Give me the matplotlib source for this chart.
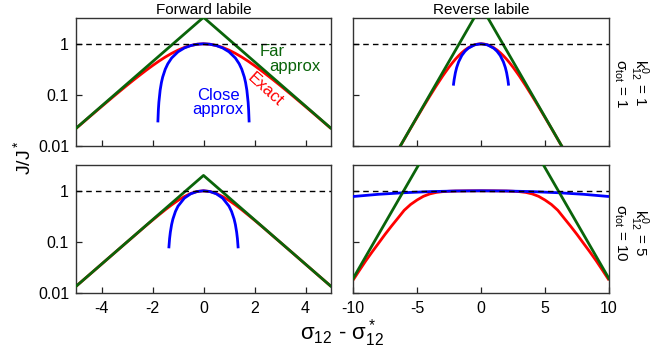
import numpy as np
import matplotlib
matplotlib.use("Agg")
import matplotlib.pyplot as plt

plt.rcParams['font.family'] = ['Liberation Sans', 'DejaVu Sans']
plt.rcParams['mathtext.fontset'] = 'custom'
plt.rcParams['mathtext.rm'] = 'Liberation Sans'
plt.rcParams['mathtext.it'] = 'Liberation Sans:italic'
plt.rcParams['mathtext.bf'] = 'Liberation Sans:bold'

# ---- data (positive half of symmetric curves) ----
# Top-left: Forward labile, k12=1, sigma_tot=1
tl_exact_x = [0, 0.25, 0.5, 0.75, 1, 1.25, 1.5, 1.75, 2, 2.25, 2.5, 2.75, 3, 3.5, 4, 4.5, 5]
tl_exact_y = [1, 0.981, 0.928, 0.849, 0.752, 0.650, 0.550, 0.457, 0.374, 0.303, 0.243, 0.194,
              0.154, 0.0958, 0.0590, 0.0361, 0.0220]
tl_close_x = [0, 0.25, 0.5, 0.75, 1, 1.25, 1.4, 1.5, 1.6, 1.65, 1.7, 1.75, 1.77, 1.79]
tl_close_y = [1, 0.981, 0.924, 0.830, 0.697, 0.527, 0.406, 0.318, 0.224, 0.175, 0.124, 0.072, 0.051, 0.029]
tl_far_x = [0, 5]
tl_far_y = [3.3, 0.0222]

# Top-right: Reverse labile, k12=1, sigma_tot=1
tr_exact_x = [0, 0.25, 0.5, 0.75, 1, 1.25, 1.5, 1.75, 2, 2.25, 2.5, 2.75, 3, 3.5, 4, 4.5, 5,
              5.5, 6, 6.5, 7]
tr_exact_y = [1, 0.989, 0.956, 0.903, 0.835, 0.756, 0.670, 0.583, 0.499, 0.420, 0.349, 0.286,
              0.233, 0.150, 0.0946, 0.0588, 0.0362, 0.0222, 0.0135, 0.0082, 0.0050]
tr_close_x = [0, 0.5, 1, 1.25, 1.5, 1.75, 1.9, 2, 2.1, 2.16]
tr_close_y = [1, 0.955, 0.818, 0.716, 0.591, 0.443, 0.344, 0.273, 0.198, 0.152]
tr_far_x = [0, 7]
tr_far_y = [5.5, 0.0050]

# Bottom-left: Forward labile, k12=5, sigma_tot=10
bl_exact_x = [0, 0.25, 0.5, 0.75, 1, 1.25, 1.5, 1.75, 2, 2.25, 2.5, 2.75, 3, 3.5, 4, 4.5, 5]
bl_exact_y = [1, 0.970, 0.887, 0.772, 0.648, 0.530, 0.425, 0.337, 0.266, 0.209, 0.163, 0.127,
              0.0993, 0.0603, 0.0366, 0.0222, 0.0135]
bl_close_x = [0, 0.25, 0.5, 0.75, 1, 1.1, 1.2, 1.25, 1.3, 1.33, 1.36]
bl_close_y = [1, 0.969, 0.875, 0.719, 0.5, 0.395, 0.28, 0.219, 0.155, 0.116, 0.075]
bl_far_x = [0, 5]
bl_far_y = [2.0, 0.0135]

# Bottom-right: Reverse labile, k12=5, sigma_tot=10
br_exact_x = [0, 1, 2, 2.5, 3, 3.5, 4, 4.5, 5, 5.5, 6, 6.5, 7, 7.5, 8, 8.5, 9, 9.5, 10]
br_exact_y = [1, 0.998, 0.99, 0.98, 0.963, 0.93, 0.87, 0.78, 0.66, 0.54, 0.416, 0.29, 0.203,
              0.14, 0.0945, 0.064, 0.0427, 0.0277, 0.0178]
br_close_x = [0, 2, 4, 6, 8, 10]
br_close_y = [1, 0.991, 0.964, 0.918, 0.855, 0.773]
br_far_x = [0, 10]
br_far_y = [420, 0.0191]

titles = ["Forward labile", "Reverse labile"]
row_labels = [r"$\mathrm{k^0_{12}}$ = 1" + "\n" + r"$\mathrm{\sigma_{tot}}$ = 1",
              r"$\mathrm{k^0_{12}}$ = 5" + "\n" + r"$\mathrm{\sigma_{tot}}$ = 10"]
left_xticks = [-4, -2, 0, 2, 4]
right_xticks = [-10, -5, 0, 5, 10]
yticks = [0.01, 0.1, 1]
ytick_labels = ["0.01", "0.1", "1"]

GREEN = '#0a640a'
RED = '#ff0000'
BLUE = '#0000ff'


def mirror(x, y):
    x = np.asarray(x, float)
    y = np.asarray(y, float)
    return np.concatenate([-x[::-1], x[1:]]), np.concatenate([y[::-1], y[1:]])


W, H = 655, 350
fig = plt.figure(figsize=(W / 100, H / 100), dpi=100)


def add_ax(l, t, r, b):
    return fig.add_axes([l / W, 1 - b / H, (r - l) / W, (b - t) / H])


ax_tl = add_ax(76, 18, 331, 146)
ax_tr = add_ax(353, 18, 609, 146)
ax_bl = add_ax(76, 165, 331, 293)
ax_br = add_ax(353, 165, 609, 293)

panels = [
    (ax_tl, tl_exact_x, tl_exact_y, tl_close_x, tl_close_y, tl_far_x, tl_far_y, (-5, 5)),
    (ax_tr, tr_exact_x, tr_exact_y, tr_close_x, tr_close_y, tr_far_x, tr_far_y, (-10, 10)),
    (ax_bl, bl_exact_x, bl_exact_y, bl_close_x, bl_close_y, bl_far_x, bl_far_y, (-5, 5)),
    (ax_br, br_exact_x, br_exact_y, br_close_x, br_close_y, br_far_x, br_far_y, (-10, 10)),
]

for ax, ex, ey, cx, cy, fx, fy, xl in panels:
    ax.set_yscale('log')
    x, y = mirror(ex, ey)
    ax.plot(x, y, color=RED, lw=2, zorder=2, solid_capstyle='butt')
    x, y = mirror(cx, cy)
    ax.plot(x, y, color=BLUE, lw=2, zorder=3, solid_capstyle='butt')
    x, y = mirror(fx, fy)
    ax.plot(x, y, color=GREEN, lw=2, zorder=4)
    ax.axhline(1, color='black', lw=1, ls=(0, (4, 3)), zorder=5)
    ax.set_xlim(*xl)
    ax.set_ylim(0.01, 3.2)
    ax.set_yticks(yticks)
    ax.minorticks_off()
    ax.tick_params(direction='in', length=4, width=0.9, labelsize=11.5,
                   top=False, right=False, pad=5, color='#222222')
    ax.tick_params(axis='x', pad=6)
    for s in ax.spines.values():
        s.set_linewidth(1.0)
        s.set_color('#333333')

for ax in (ax_tl, ax_bl):
    ax.set_xticks(left_xticks)
    ax.set_yticklabels(ytick_labels)
for ax in (ax_tr, ax_br):
    ax.set_xticks(right_xticks)
    ax.set_yticklabels([])
ax_tl.set_xticklabels([])
ax_tr.set_xticklabels([])
ax_bl.set_xticklabels([str(v) for v in left_xticks])
ax_br.set_xticklabels([str(v) for v in right_xticks])

ax_tl.set_title(titles[0], fontsize=11, pad=3)
ax_tr.set_title(titles[1], fontsize=11, pad=3)

# annotations in top-left panel
ax_tl.text(2.71, 0.70, "Far", color=GREEN, fontsize=12, ha='center', va='center')
ax_tl.text(3.59, 0.36, "approx", color=GREEN, fontsize=12, ha='center', va='center')
ax_tl.text(2.42, 0.128, "Exact", color=RED, fontsize=12, ha='center', va='center',
           rotation=-42, rotation_mode='anchor')
ax_tl.text(0.58, 0.071, "Close\napprox", color=BLUE, fontsize=12, ha='center', va='center',
           multialignment='center', linespacing=0.85)

# row labels on right
fig.text(631 / W, 1 - 83 / H, row_labels[0], rotation=-90, fontsize=11,
         ha='center', va='center', multialignment='center', linespacing=1.0)
fig.text(631 / W, 1 - 233 / H, row_labels[1], rotation=-90, fontsize=11,
         ha='center', va='center', multialignment='center', linespacing=1.0)

# axis labels
fig.text(23 / W, 1 - 158 / H, r"J/J$^*$", rotation=90, fontsize=14, ha='center', va='center')
fig.text(342 / W, 1 - 333 / H, r"$\mathrm{\sigma_{12}}$ - $\mathrm{\sigma^*_{12}}$",
         fontsize=16, ha='center', va='center')

fig.savefig("out.png", dpi=100)
